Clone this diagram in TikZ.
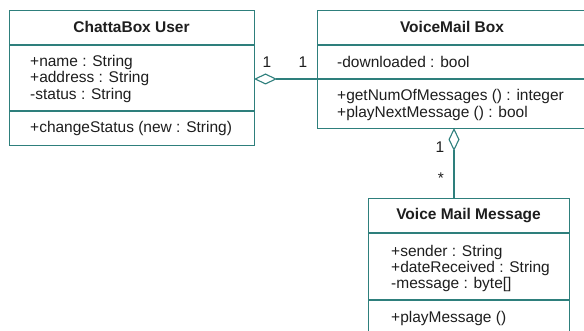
\documentclass[tikz,border=0pt]{standalone}
\usepackage{fontspec}
\setmainfont{Liberation Sans}
\usetikzlibrary{arrows.meta}
\definecolor{umlline}{HTML}{2E7F7C}
\definecolor{umltext}{HTML}{1E1E1E}
\begin{document}
\begin{tikzpicture}[x=1pt,y=-1pt,
  classbox/.style={draw=umlline, line width=1.1pt, fill=white, inner sep=0pt, anchor=north west},
  divider/.style={draw=umlline, line width=1.1pt},
  member/.style={anchor=west, inner sep=0pt, font=\fontsize{15.5}{16}\selectfont, text=umltext},
  classname/.style={anchor=center, inner sep=0pt, font=\bfseries\fontsize{15.5}{16}\selectfont, text=umltext},
  mult/.style={anchor=center, inner sep=0pt, font=\fontsize{15.5}{16}\selectfont, text=umltext},
  assoc/.style={draw=umlline, line width=1.1pt},
  agg/.style={assoc, -{Diamond[open, length=23pt, width=11pt, line width=1.1pt]}},
]
\useasboundingbox (0,0) rectangle (584,331);
\begin{scope}
\clip (0,0) rectangle (584,331);

% ChattaBox User class
\node[classbox, minimum width=245pt, minimum height=135pt] (user) at (9,10) {};
\draw[divider] (9,45) -- (254,45);
\draw[divider] (9,111) -- (254,111);
\node[classname] (userT) at (131.5,27) {ChattaBox User};
\node[member] (userA1) at (30,62) {+name : String};
\node[member] (userA2) at (30,78.5) {+address : String};
\node[member] (userA3) at (30,95) {-status : String};
\node[member] (userM1) at (30,128.5) {+changeStatus (new : String)};

% VoiceMail Box class
\node[classbox, minimum width=270pt, minimum height=118pt] (vmbox) at (317,10) {};
\draw[divider] (317,45) -- (587,45);
\draw[divider] (317,79) -- (587,79);
\node[classname] (vmboxT) at (452,27) {VoiceMail Box};
\node[member] (vmboxA1) at (337,62) {-downloaded : bool};
\node[member] (vmboxM1) at (337,96.5) {+getNumOfMessages () : integer};
\node[member] (vmboxM2) at (337,113) {+playNextMessage () : bool};

% Voice Mail Message class
\node[classbox, minimum width=201pt, minimum height=142pt] (msg) at (368,198) {};
\draw[divider] (368,233) -- (569,233);
\draw[divider] (368,300) -- (569,300);
\node[classname] (msgT) at (468.5,216) {Voice Mail Message};
\node[member] (msgA1) at (391,252) {+sender : String};
\node[member] (msgA2) at (391,268) {+dateReceived : String};
\node[member] (msgA3) at (391,284) {-message : byte[]};
\node[member] (msgM1) at (391,318) {+playMessage ()};

% association end points
\coordinate (userEnd) at (254,79);
\coordinate (vmboxLeft) at (317,79);
\coordinate (vmboxBottom) at (454,128);
\coordinate (msgTop) at (454,198);

% aggregations
\draw[agg] (vmboxLeft) -- (userEnd);
\draw[agg] (msgTop) -- (vmboxBottom);

% multiplicities
\node[mult] (m1) at (267,62) {1};
\node[mult] (m2) at (303,62) {1};
\node[mult] (m3) at (440,147) {1};
\node[mult] (m4) at (441,178) {*};
\end{scope}
\end{tikzpicture}
\end{document}
